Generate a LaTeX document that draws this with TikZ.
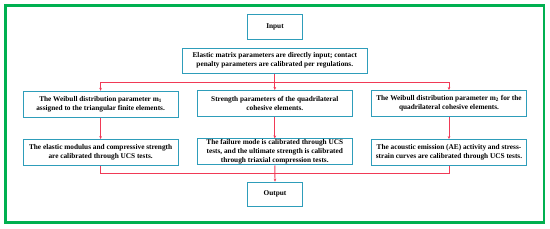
\documentclass[tikz,border=0pt]{standalone}
\usepackage{fontspec}
\setmainfont{Liberation Serif}
\usetikzlibrary{arrows.meta}
\definecolor{frameg}{HTML}{00B050}
\definecolor{boxc}{HTML}{2E9DBA}
\definecolor{linr}{HTML}{F03A56}
\tikzset{
  box/.style={draw=boxc, line width=1pt, fill=white, minimum width=155pt, minimum height=26pt,
    align=center, inner sep=0.5pt, font=\fontsize{7.3}{8.9}\selectfont\bfseries},
  smallbox/.style={box, minimum width=55pt, minimum height=25pt},
  wide/.style={box, minimum width=185pt, minimum height=25.3pt},
  conn/.style={draw=linr, line width=0.9pt},
  arr/.style={conn, -{Stealth[length=3pt,width=2.6pt]}}
}
\begin{document}
\begin{tikzpicture}[x=1pt,y=-1pt]
\useasboundingbox (0,0) rectangle (550,229);
\draw[frameg, line width=2.4pt] (5.3,5.6) rectangle (543.7,222.7);
\node[smallbox] (input) at (275,27.2) {Input};
\node[wide] (elastic) at (274.8,60.7) {Elastic matrix parameters are directly input; contact\\penalty parameters are calibrated per regulations.};
\node[box] (l1) at (100.6,104.3) {The Weibull distribution parameter m\textsubscript{1}\\assigned to the triangular finite elements.};
\node[box] (m1) at (274.8,103.5) {Strength parameters of the quadrilateral\\cohesive elements.};
\node[box] (r1) at (449,103.5) {The Weibull distribution parameter m\textsubscript{2} for the\\quadrilateral cohesive elements.};
\node[box] (l2) at (100.6,152.6) {The elastic modulus and compressive strength\\are calibrated through UCS tests.};
\node[box] (m2) at (274.8,152) {The failure mode is calibrated through UCS\\tests, and the ultimate strength is calibrated\\through triaxial compression tests.};
\node[box] (r2) at (449,152.6) {The acoustic emission (AE) activity and stress-\\strain curves are calibrated through UCS tests.};
\node[smallbox, minimum height=24pt] (output) at (275,194.2) {Output};
\coordinate (splitT) at (274.8,82.3);
\coordinate (joinB) at (274.8,173.3);
\draw[arr] (elastic.south) -- (m1.north);
\draw[arr] (splitT) -| (l1.north);
\draw[arr] (splitT) -| (r1.north);
\draw[arr] (l1) -- (l2);
\draw[arr] (m1) -- (m2);
\draw[arr] (r1) -- (r2);
\draw[conn] (l2.south) |- (joinB);
\draw[conn] (r2.south) |- (joinB);
\draw[arr] (m2.south) -- (output.north);
\end{tikzpicture}
\end{document}
